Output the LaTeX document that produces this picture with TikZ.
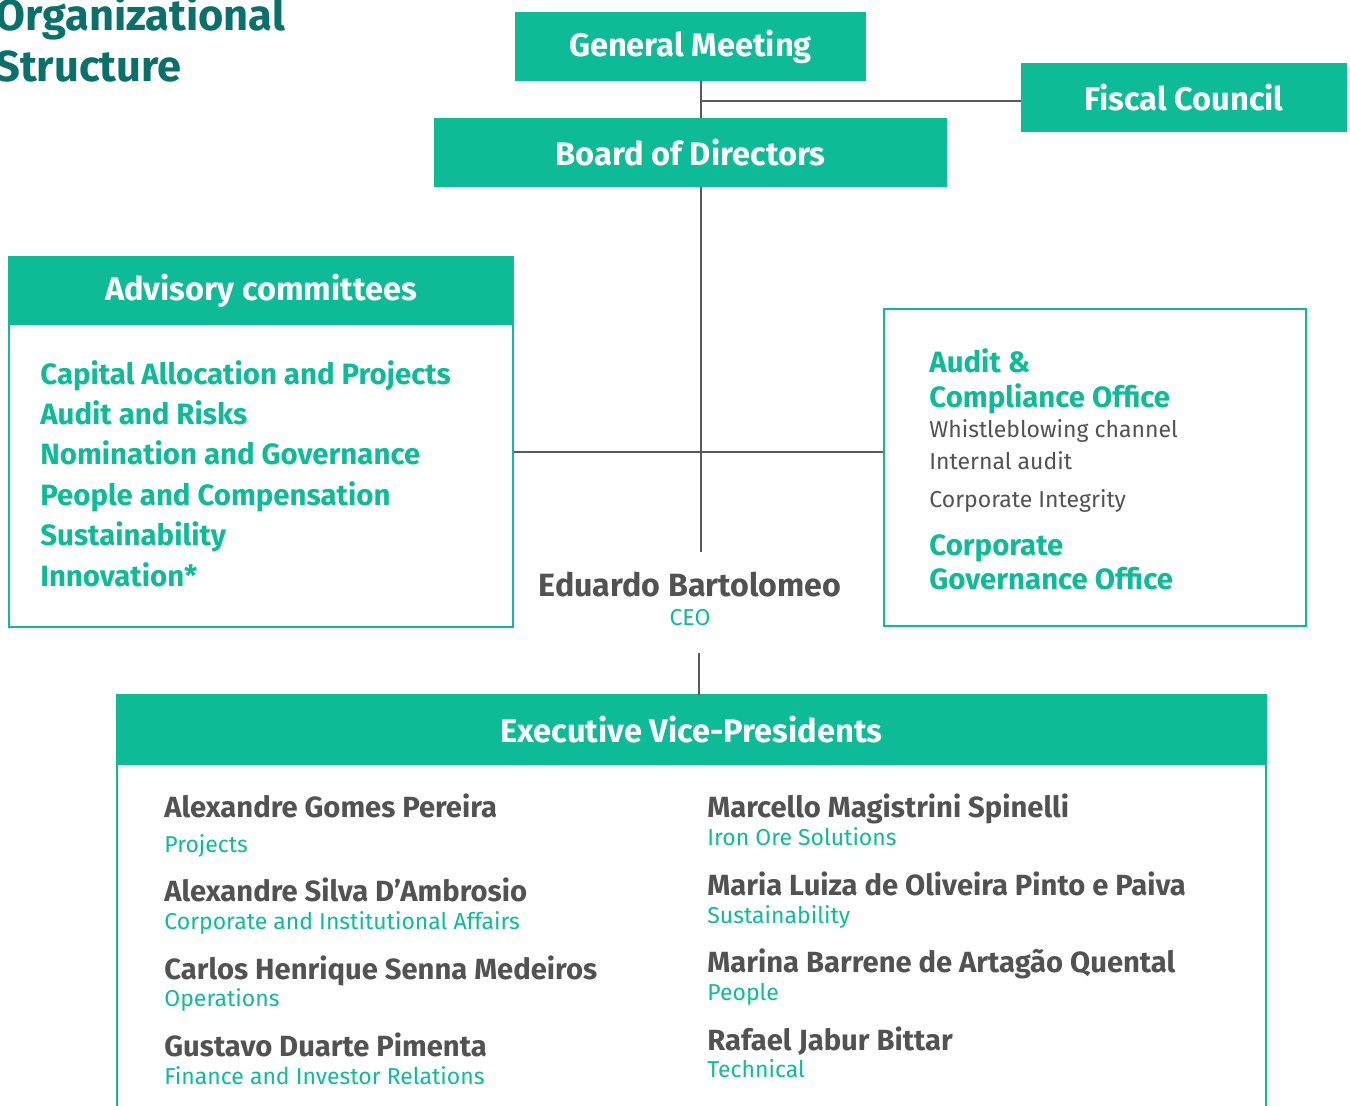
\documentclass[tikz,border=0pt]{standalone}
\usepackage{fontspec}
\setmainfont{Fira Sans}
\definecolor{valegreen}{RGB}{13,188,151}
\definecolor{valeteal}{RGB}{10,112,106}
\definecolor{textgray}{RGB}{82,82,82}
\definecolor{linegray}{RGB}{90,90,90}
\begin{document}
\begin{tikzpicture}[x=0.5pt,y=-0.5pt,
  head/.style={fill=valegreen, text=white, inner sep=0pt, font=\bfseries\fontsize{16.3}{18}\selectfont},
  frame/.style={draw=valegreen, line width=1pt, inner sep=0pt},
  item/.style={anchor=base west, inner sep=0pt, text=valegreen, font=\bfseries\fontsize{14.7}{16}\selectfont},
  note/.style={anchor=base west, inner sep=0pt, text=textgray, font=\fontsize{11.5}{13}\selectfont},
  person/.style={anchor=base west, inner sep=0pt, text=textgray, font=\bfseries\fontsize{14.6}{16}\selectfont},
  role/.style={anchor=base west, inner sep=0pt, text=valegreen, font=\fontsize{11.5}{13}\selectfont},
  link/.style={draw=linegray, line width=0.9pt}]
\useasboundingbox (0,0) rectangle (1350,1106);
\clip (0,0) rectangle (1350,1106);
% title
\node[anchor=base west, inner sep=0pt, text=valeteal, font=\bfseries\fontsize{21.7}{24}\selectfont] (title1) at (-5,31) {Organizational};
\node[anchor=base west, inner sep=0pt, text=valeteal, font=\bfseries\fontsize{21.7}{24}\selectfont] (title2) at (-5,82) {Structure};
% governance bodies
\coordinate (spine) at (701,0);
\coordinate (fcline) at (0,101);
\node[head, minimum width=175.5pt, minimum height=34.5pt] (gm) at (690.5,46.5) {General Meeting};
\node[head, minimum width=163pt, minimum height=34.5pt] (fiscal) at (1184,97.5) {Fiscal Council};
\node[head, minimum width=256.5pt, minimum height=34.5pt] (bod) at (690.5,152.5) {Board of Directors};
% advisory committees
\node[frame, minimum width=252pt, minimum height=185pt] (advframe) at (261,442) {};
\node[head, minimum width=253pt, minimum height=34pt] (advhead) at (261,291) {Advisory committees};
\node[item] (cap) at (40,385) {Capital Allocation and Projects};
\node[item] (risk) at (40,425) {Audit and Risks};
\node[item] (nom) at (40,465) {Nomination and Governance};
\node[item] (ppl) at (40,506) {People and Compensation};
\node[item] (sus) at (40,546) {Sustainability};
\node[item] (inn) at (40,587) {Innovation*};
% offices
\node[frame, minimum width=211pt, minimum height=158.5pt] (offices) at (1095,467.5) {};
\node[item] (aud1) at (929,373) {Audit \&};
\node[item] (aud2) at (929,408) {Compliance Office};
\node[note] (whist) at (929,438) {Whistleblowing channel};
\node[note] (inaud) at (929,470) {Internal audit};
\node[note] (integ) at (929,508) {Corporate Integrity};
\node[item] (gov1) at (929,556) {Corporate};
\node[item] (gov2) at (929,590) {Governance Office};
% ceo
\node[anchor=base, inner sep=0pt, text=textgray, font=\bfseries\fontsize{16.1}{18}\selectfont] (ceo) at (690,597) {Eduardo Bartolomeo};
\node[anchor=base, inner sep=0pt, text=valegreen, font=\fontsize{11.5}{13}\selectfont] (ceorole) at (690,626) {CEO};
\coordinate (ceotop) at (701,552);
\coordinate (ceobot) at (699,653);
% executive vice-presidents
\node[frame, minimum width=574.5pt, minimum height=212pt] (evpframe) at (691.5,907) {};
\node[head, minimum width=575.5pt, minimum height=35pt] (evphead) at (691.5,730) {Executive Vice-Presidents};
\node[person] (p1) at (164,817) {Alexandre Gomes Pereira};
\node[role] (r1) at (164,852) {Projects};
\node[person] (p2) at (164,901) {Alexandre Silva D’Ambrosio};
\node[role] (r2) at (164,929) {Corporate and Institutional Affairs};
\node[person] (p3) at (164,979) {Carlos Henrique Senna Medeiros};
\node[role] (r3) at (164,1006) {Operations};
\node[person] (p4) at (164,1056) {Gustavo Duarte Pimenta};
\node[role] (r4) at (164,1084) {Finance and Investor Relations};
\node[person] (p5) at (707,817) {Marcello Magistrini Spinelli};
\node[role] (r5) at (707,845) {Iron Ore Solutions};
\node[person] (p6) at (707,895) {Maria Luiza de Oliveira Pinto e Paiva};
\node[role] (r6) at (707,923) {Sustainability};
\node[person] (p7) at (707,972) {Marina Barrene de Artagão Quental};
\node[role] (r7) at (707,1000) {People};
\node[person] (p8) at (707,1050) {Rafael Jabur Bittar};
\node[role] (r8) at (707,1077) {Technical};
% connectors
\coordinate (cross) at (700,452);
\draw[link] (gm.south -| spine) -- (bod.north -| spine);
\draw[link] (fiscal.west |- fcline) -- (spine |- fcline);
\draw[link] (bod.south -| spine) -- (ceotop);
\draw[link] (cross -| advframe.east) -- (cross -| offices.west);
\draw[link] (ceobot) -- (evphead.north -| ceobot);
\end{tikzpicture}
\end{document}
